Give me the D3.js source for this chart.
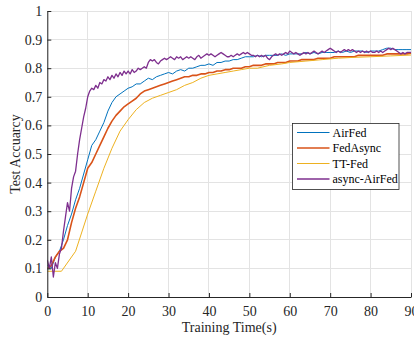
<!DOCTYPE html>
<html><head><meta charset="utf-8">
<script src="https://cdn.jsdelivr.net/npm/d3@7"></script>
<style>html,body{margin:0;padding:0;background:#fff;overflow:hidden}</style>
</head><body>
<svg id="chart" width="414" height="337"></svg>
<script>
const seriesNames = ["AirFed", "FedAsync", "TT-Fed", "async-AirFed"];
const seriesColors = ["#0072BD", "#D95319", "#EDB120", "#7E2F8E"];
const xTicks = [0,10,20,30,40,50,60,70,80,90];
const yTicks = [0,0.1,0.2,0.3,0.4,0.5,0.6,0.7,0.8,0.9,1];
const yTickLabels = ["0","0.1","0.2","0.3","0.4","0.5","0.6","0.7","0.8","0.9","1"];

// AirFed, 1 s step from 0 to 90
const airFed = [0.11,0.10,0.14,0.16,0.20,0.25,0.29,0.34,0.38,0.43,0.48,0.53,0.55,0.58,0.61,0.65,0.68,0.70,0.71,0.72,
0.73,0.735,0.745,0.745,0.755,0.765,0.76,0.77,0.775,0.78,0.785,0.78,0.79,0.795,0.79,0.80,0.80,0.805,0.81,0.81,
0.815,0.81,0.82,0.82,0.825,0.825,0.83,0.83,0.835,0.84,0.84,0.84,0.845,0.84,0.845,0.845,0.845,0.845,0.85,0.845,
0.85,0.85,0.85,0.85,0.855,0.85,0.855,0.85,0.855,0.855,0.855,0.855,0.86,0.855,0.86,0.855,0.86,0.86,0.86,0.855,
0.86,0.86,0.86,0.865,0.87,0.87,0.865,0.865,0.865,0.865,0.865];
// FedAsync, 1 s step
const fedAsync = [0.10,0.11,0.14,0.16,0.17,0.20,0.26,0.31,0.35,0.40,0.45,0.47,0.50,0.53,0.56,0.59,0.615,0.635,0.65,0.665,
0.675,0.685,0.695,0.71,0.72,0.725,0.73,0.735,0.74,0.745,0.75,0.755,0.76,0.765,0.77,0.77,0.775,0.775,0.78,0.78,
0.785,0.785,0.79,0.79,0.795,0.795,0.80,0.80,0.80,0.805,0.805,0.81,0.81,0.81,0.815,0.815,0.815,0.82,0.82,0.82,
0.825,0.825,0.825,0.83,0.83,0.83,0.83,0.835,0.835,0.835,0.835,0.84,0.84,0.84,0.84,0.84,0.84,0.845,0.845,0.845,
0.845,0.845,0.845,0.845,0.85,0.85,0.85,0.85,0.85,0.85,0.852];
// TT-Fed, sparse points
const ttFedT = [0,3.5,7,10,12,14,16,18,20,22,24,26,28,30,32,34,36,38,40,42,44,46,48,50,52,55,58,60,64,68,72,76,80,85,90];
const ttFedV = [0.09,0.09,0.16,0.29,0.37,0.45,0.52,0.58,0.62,0.655,0.68,0.695,0.705,0.715,0.725,0.74,0.75,0.765,0.775,0.78,
0.785,0.79,0.795,0.80,0.80,0.81,0.815,0.82,0.825,0.83,0.835,0.838,0.84,0.843,0.846];
// async-AirFed, 0.5 s step from 0 to 90
const asyncAirFed = [0.13,0.10,0.14,0.07,0.12,0.10,0.15,0.17,0.23,0.28,0.33,0.30,0.38,0.42,0.44,0.50,0.55,0.59,0.63,0.66,
0.70,0.72,0.73,0.725,0.74,0.73,0.75,0.745,0.76,0.755,0.77,0.76,0.775,0.765,0.78,0.77,0.785,0.775,0.79,0.78,
0.79,0.78,0.795,0.785,0.79,0.80,0.795,0.80,0.805,0.80,0.82,0.83,0.825,0.83,0.82,0.815,0.825,0.83,0.835,0.83,
0.835,0.84,0.835,0.83,0.84,0.835,0.84,0.83,0.835,0.84,0.835,0.84,0.835,0.83,0.84,0.845,0.835,0.84,0.845,0.85,
0.845,0.85,0.845,0.84,0.845,0.85,0.855,0.85,0.845,0.84,0.84,0.845,0.84,0.845,0.85,0.845,0.85,0.855,0.85,0.855,
0.85,0.845,0.845,0.84,0.845,0.84,0.845,0.84,0.845,0.835,0.83,0.84,0.845,0.85,0.845,0.85,0.845,0.85,0.855,0.85,
0.86,0.855,0.85,0.855,0.85,0.845,0.85,0.855,0.85,0.855,0.85,0.855,0.86,0.855,0.85,0.855,0.86,0.855,0.86,0.865,
0.87,0.865,0.86,0.855,0.86,0.855,0.86,0.865,0.86,0.865,0.86,0.865,0.86,0.855,0.86,0.855,0.86,0.855,0.86,0.855,
0.86,0.855,0.855,0.86,0.855,0.86,0.855,0.86,0.865,0.87,0.865,0.87,0.865,0.86,0.855,0.85,0.855,0.85,0.855,0.855,0.855];

const svg = d3.select("#chart");
const L = 47.3, R = 411, T = 11, B = 297;
const x = d3.scaleLinear().domain([0,90]).range([L,R]);
const y = d3.scaleLinear().domain([0,1]).range([B,T]);
const font = "'Liberation Serif','Times New Roman',serif";

// grid
const g = svg.append("g");
g.selectAll(".vg").data(xTicks).enter().append("line")
  .attr("x1", d=>x(d)).attr("x2", d=>x(d)).attr("y1", T).attr("y2", B)
  .attr("stroke", "#e3e3e3").attr("stroke-width", 1).attr("shape-rendering","crispEdges");
g.selectAll(".hg").data(yTicks).enter().append("line")
  .attr("x1", L).attr("x2", R).attr("y1", d=>y(d)).attr("y2", d=>y(d))
  .attr("stroke", "#e3e3e3").attr("stroke-width", 1).attr("shape-rendering","crispEdges");

svg.append("defs").append("clipPath").attr("id","clip").append("rect")
  .attr("x", L).attr("y", T-2).attr("width", R-L+2).attr("height", B-T+2);

const lineGen = d3.line().x(d=>x(d[0])).y(d=>y(d[1]));
const data = [
  airFed.map((v,i)=>[i,v]),
  fedAsync.map((v,i)=>[i,v]),
  ttFedT.map((t,i)=>[t,ttFedV[i]]),
  asyncAirFed.map((v,i)=>[i*0.5,v])
];
const widths = [1, 1.6, 1, 1.3];
const lg = svg.append("g").attr("clip-path","url(#clip)");
data.forEach((d,i)=>{
  lg.append("path").datum(d).attr("d", lineGen).attr("fill","none")
    .attr("stroke", seriesColors[i]).attr("stroke-width", widths[i]).attr("stroke-linejoin","round");
});

// axes
const xAxis = d3.axisBottom(x).tickValues(xTicks).tickSizeInner(-4).tickSizeOuter(0).tickPadding(9);
const yAxis = d3.axisLeft(y).tickValues(yTicks).tickFormat((d,i)=>yTickLabels[i]).tickSizeInner(-4).tickSizeOuter(0).tickPadding(5);
const xa = svg.append("g").attr("transform", `translate(0,${B})`).call(xAxis);
const ya = svg.append("g").attr("transform", `translate(${L},0)`).call(yAxis);
[xa, ya].forEach(a=>{
  a.select(".domain").attr("stroke","#262626").attr("stroke-width",1);
  a.selectAll(".tick line").attr("stroke","#262626");
  a.selectAll("text").attr("fill","#262626").style("font-family", font).style("font-size","14px");
});
xa.selectAll("text").attr("dy","0.71em");

svg.append("text").attr("x", (L+R)/2).attr("y", 332).attr("text-anchor","middle")
  .style("font-family", font).style("font-size","14px").attr("fill","#262626").text("Training Time(s)");
svg.append("text").attr("transform", `translate(19.5,${(T+B)/2}) rotate(-90)`).attr("text-anchor","middle")
  .style("font-family", font).style("font-size","14px").attr("fill","#262626").text("Test Accuarcy");

// legend
const legX = 292.5, legY = 123.5, legW = 106.5, legH = 66, rowH = 15.5;
const leg = svg.append("g");
leg.append("rect").attr("x", legX).attr("y", legY).attr("width", legW).attr("height", legH)
  .attr("fill","#fff").attr("stroke","#262626").attr("stroke-width",0.8);
seriesNames.forEach((n,i)=>{
  const cy = legY + 9 + i*rowH;
  leg.append("line").attr("x1", legX+4.5).attr("x2", legX+37).attr("y1", cy).attr("y2", cy)
    .attr("stroke", seriesColors[i]).attr("stroke-width", widths[i]);
  leg.append("text").attr("x", legX+40).attr("y", cy).attr("dy","0.35em")
    .style("font-family", font).style("font-size","12px").attr("fill","#000").text(n);
});
</script>
</body></html>
